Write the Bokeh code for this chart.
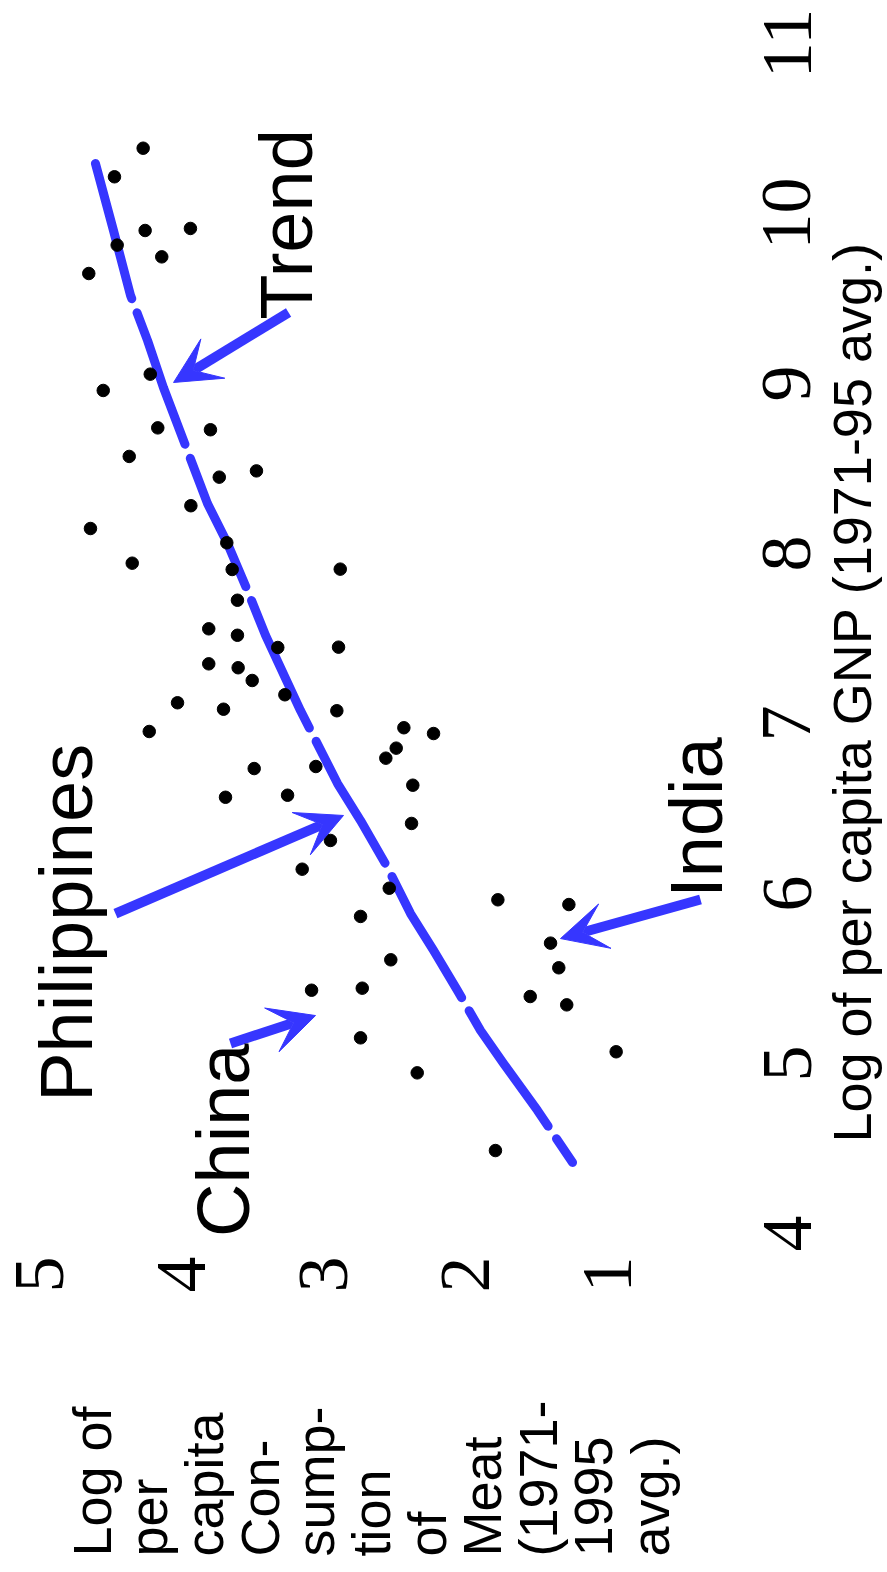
from math import pi
from bokeh.plotting import figure
from bokeh.models import Range1d, Label, LabelSet, Arrow, VeeHead, ColumnDataSource
from bokeh.embed import file_html
from bokeh.resources import INLINE

# ---- data ----
# log of per capita meat consumption (1971-1995 avg.) and log of per capita GNP (1971-95 avg.)
meat = [4.256, 4.458, 4.242, 3.923, 4.439, 4.125, 4.639, 4.206, 4.537, 4.153,
        3.782, 4.354, 3.720, 3.458, 3.920, 4.627, 4.333, 3.667, 3.629, 2.868,
        3.592, 3.794, 3.592, 3.308, 2.880, 3.794, 3.587, 3.488, 3.258, 4.014,
        3.690, 2.892, 4.213, 2.420, 2.211, 2.474, 2.547, 3.474, 3.040, 2.357,
        3.676, 3.239, 2.366, 2.937, 3.136, 2.523, 2.725, 2.512, 3.070, 2.713,
        2.725, 2.326, 1.758, 1.258, 1.387, 1.329, 1.530, 1.273, 0.925, 1.775]
gnp = [10.384, 10.216, 9.900, 9.912, 9.814, 9.745, 9.647, 9.055, 8.959, 8.739,
       8.728, 8.571, 8.449, 8.486, 8.281, 8.147, 7.943, 8.063, 7.906, 7.908,
       7.725, 7.557, 7.519, 7.447, 7.449, 7.351, 7.328, 7.253, 7.169, 7.122,
       7.084, 7.075, 6.953, 6.975, 6.941, 6.855, 6.796, 6.735, 6.747, 6.637,
       6.566, 6.578, 6.412, 6.312, 6.143, 6.031, 5.865, 5.610, 5.431, 5.443,
       5.151, 4.945, 5.963, 5.935, 5.708, 5.563, 5.394, 5.345, 5.069, 4.488]

# trend curve
trend_meat = [4.592, 4.465, 4.345, 4.225, 4.113, 3.803, 3.662, 3.521, 3.394, 3.148,
              2.887, 2.725, 2.535, 2.373, 2.211, 2.042, 1.880, 1.718, 1.479, 1.232]
trend_gnp = [10.294, 9.900, 9.518, 9.253, 8.976, 8.294, 8.059, 7.782, 7.518, 7.076,
             6.647, 6.429, 6.153, 5.882, 5.665, 5.429, 5.194, 5.000, 4.724, 4.418]

meat_ticks = [1, 2, 3, 4, 5]
gnp_ticks = [4, 5, 6, 7, 8, 9, 10, 11]

# annotations: (text, meat, gnp) anchor
notes = [("Trend", 3.246, 9.375), ("Philippines", 4.796, 4.775),
         ("China", 3.690, 3.980), ("India", 0.359, 5.975)]
# arrows (meat_start, gnp_start, meat_end, gnp_end)
arrows = [(3.232, 9.418, 4.042, 9.006),
          (4.451, 5.882, 2.845, 6.459),
          (3.641, 5.118, 3.042, 5.282),
          (0.331, 5.965, 1.317, 5.735)]

x_title_lines = ["Log of", "per", "capita", "Con-", "sump-", "tion", "of",
                 "Meat", "(1971-", "1995", "avg.)"]
y_title = "Log of per capita GNP (1971-95 avg.)"

BLUE = "#3636ff"
FONT = "Liberation Sans"
W, H = 887, 1565

# the chart is drawn turned a quarter turn: meat runs right-to-left, GNP bottom-to-top
p = figure(width=W, height=H, output_backend="svg", toolbar_location=None,
           x_range=Range1d(5.2606, -0.9859), y_range=Range1d(2.0471, 11.2529),
           x_axis_location=None, y_axis_location=None, min_border=0)
p.outline_line_color = None
p.grid.visible = False
p.background_fill_color = "white"

# tick labels placed through the data scales
meat_tick_src = ColumnDataSource(dict(x=[t - 0.182 for t in meat_ticks],
                                      y=[3.759] * len(meat_ticks),
                                      t=[str(t) for t in meat_ticks]))
gnp_tick_src = ColumnDataSource(dict(x=[-0.4437] * len(gnp_ticks), y=gnp_ticks,
                                     t=[str(t) for t in gnp_ticks]))
for src in (meat_tick_src, gnp_tick_src):
    p.add_layout(LabelSet(x="x", y="y", text="t", source=src, angle=pi / 2,
                          text_font=FONT, text_font_size="72px",
                          text_align="center", text_baseline="alphabetic",
                          text_color="black"))

p.line(trend_meat, trend_gnp, line_color=BLUE, line_width=9, line_cap="round",
       line_join="round", line_dash="140 15")
p.scatter(meat, gnp, size=12.5, fill_color="black", line_color="black")

for xs, ys, xe, ye in arrows:
    p.add_layout(Arrow(x_start=xs, y_start=ys, x_end=xe, y_end=ye,
                       line_color=BLUE, line_width=10,
                       end=VeeHead(size=46, fill_color=BLUE, line_color=BLUE)))

for txt, x, y in notes:
    p.add_layout(Label(x=x, y=y, text=txt, angle=pi / 2, text_font=FONT,
                       text_font_size="74px", text_align="left",
                       text_baseline="alphabetic", text_color="black"))

# GNP axis title
p.add_layout(Label(x=-0.739, y=4.535, text=y_title, angle=pi / 2, text_font=FONT,
                   text_font_size="54px", text_align="left",
                   text_baseline="alphabetic", text_color="black"))

# meat axis title, one rotated column per line
x_title_meat0 = 4.613     # first column anchor (meat units)
x_title_step = 0.3923     # column step (meat units)
x_title_gnp = 2.100
for i, line in enumerate(x_title_lines):
    p.add_layout(Label(x=x_title_meat0 - i * x_title_step, y=x_title_gnp, text=line,
                       angle=pi / 2, text_font=FONT, text_font_size="54px",
                       text_align="left", text_baseline="alphabetic",
                       text_color="black"))

open("out.html", "w").write(file_html(p, INLINE))
